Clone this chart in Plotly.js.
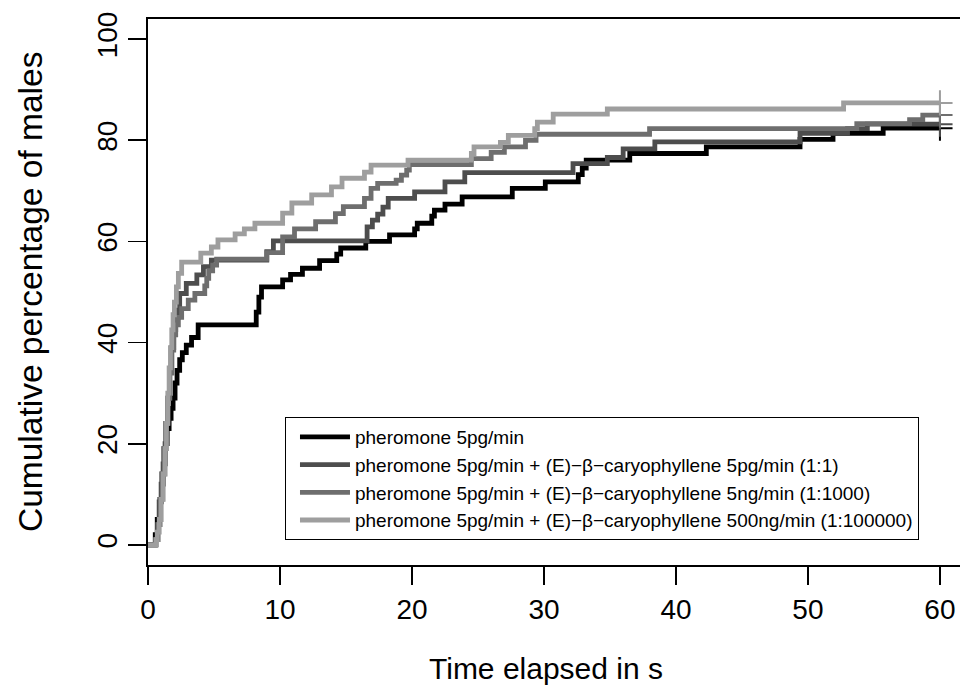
<!DOCTYPE html>
<html><head><meta charset="utf-8">
<script src="https://cdn.plot.ly/plotly-3.0.1.min.js"></script>
<style>body{margin:0;background:#fff}</style>
</head><body><div id="chart" style="width:960px;height:700px"></div>
<script>
const seriesNames = [
  "pheromone 5pg/min",
  "pheromone 5pg/min + (E)\u2212\u03b2\u2212caryophyllene 5pg/min (1:1)",
  "pheromone 5pg/min + (E)\u2212\u03b2\u2212caryophyllene 5ng/min (1:1000)",
  "pheromone 5pg/min + (E)\u2212\u03b2\u2212caryophyllene 500ng/min (1:100000)"
];
const seriesColors = ["#000000", "#4d4d4d", "#6e6e6e", "#9e9e9e"];

// pheromone 5pg/min
const t1 = [0, 0.55, 0.7, 0.85, 1.0, 1.15, 1.3, 1.45, 1.6, 1.75, 1.9, 2.05, 2.2, 2.4, 2.6, 2.9, 3.3, 3.8, 8.2, 8.4, 8.6, 10.2, 10.8, 11.7, 13.0, 14.3, 14.6, 16.5, 18.3, 20.2, 20.4, 21.5, 21.7, 22.5, 23.8, 27.6, 30.1, 32.6, 32.9, 33.2, 36.5, 42.3, 49.4, 51.9, 55.7, 60];
const v1 = [0, 2, 5, 8.5, 12, 16, 20, 23, 25, 27, 29, 32, 34.5, 36.6, 38, 39.5, 41, 43.5, 46, 49, 51, 52.4, 53.5, 54.7, 56.2, 57.5, 58.7, 60, 61.3, 62.5, 63.6, 65, 66.2, 67.4, 68.8, 70.5, 71.8, 73.2, 74.5, 76.1, 77.4, 78.7, 80.2, 81.4, 82.4, 82.4];

// + caryophyllene 5pg/min (1:1)
const t2 = [0, 0.6, 0.75, 0.9, 1.05, 1.2, 1.35, 1.5, 1.65, 1.8, 1.95, 2.1, 2.3, 2.4, 2.9, 3.7, 4.2, 4.8, 9.0, 9.5, 16.6, 17.0, 17.4, 17.8, 18.2, 20.2, 22.5, 24.0, 32.2, 34.8, 36.0, 38.4, 49.4, 53.0, 54.5, 60];
const v2 = [0, 1, 4, 9, 14, 19, 24, 29, 34, 39, 42.5, 45, 46.4, 49.7, 51.7, 53.4, 55, 56.3, 58, 60.1, 62.9, 64.2, 65.4, 66.8, 68.5, 69.8, 71.8, 73.6, 75.4, 76.6, 78.3, 79.7, 81.4, 82.3, 83.2, 83.2];

// + caryophyllene 5ng/min (1:1000)
const t3 = [0, 0.6, 0.75, 0.9, 1.05, 1.2, 1.35, 1.5, 1.65, 1.8, 1.95, 2.1, 2.3, 2.55, 3.05, 3.55, 4.3, 4.45, 4.6, 4.9, 5.2, 9.0, 10.2, 11.1, 12.7, 14.2, 14.8, 16.4, 16.9, 17.4, 18.8, 19.2, 19.6, 19.8, 24.5, 26.0, 27.0, 28.6, 29.4, 38.0, 53.7, 57.7, 58.7, 60];
const v3 = [0, 1, 4, 9, 14, 19, 24, 29, 34, 38.5, 41.5, 43.5, 45, 46.7, 48.4, 49.7, 51.2, 52.7, 54.2, 55.3, 56.5, 57.8, 60.9, 62.5, 63.9, 65.5, 66.9, 68.5, 70.5, 71.5, 72.1, 73.1, 74.1, 75.2, 76.4, 77.6, 78.7, 80.0, 81.2, 82.3, 83.3, 84.1, 85.0, 85.0];

// + caryophyllene 500ng/min (1:100000)
const t4 = [0, 0.6, 0.7, 0.85, 1.0, 1.15, 1.3, 1.4, 1.5, 1.6, 1.7, 1.8, 1.9, 2.0, 2.15, 2.3, 2.55, 4.0, 4.8, 5.3, 6.6, 7.3, 8.1, 10.2, 10.9, 12.4, 13.9, 14.7, 16.4, 16.9, 19.7, 24.5, 24.7, 26.7, 27.3, 29.3, 29.5, 30.7, 34.8, 52.7, 60];
const v4 = [0, 1, 2.5, 5, 9, 14, 19, 24, 30, 35, 39, 42.5, 45.5, 48, 51, 53.7, 55.9, 57.7, 58.9, 60.3, 61.5, 62.5, 63.6, 65.6, 67.6, 69.2, 70.8, 72.5, 73.7, 75.1, 76.1, 77.4, 78.7, 79.6, 81.0, 82.3, 83.6, 85.2, 86.2, 87.4, 87.4];

const xTicks = [0, 10, 20, 30, 40, 50, 60];
const yTicks = [0, 20, 40, 60, 80, 100];

const allT = [t1, t2, t3, t4];
const allV = [v1, v2, v3, v4];
const traces = [];
for (let i = 0; i < 4; i++) {
  traces.push({
    x: allT[i], y: allV[i], type: 'scatter', mode: 'lines',
    line: {shape: 'hv', color: seriesColors[i], width: 4.8},
    name: seriesNames[i], showlegend: true
  });
}
for (let i = 0; i < 4; i++) {
  const n = allT[i].length - 1;
  traces.push({
    x: [allT[i][n]], y: [allV[i][n]], type: 'scatter', mode: 'markers',
    marker: {symbol: 'cross-thin', size: 18, line: {color: seriesColors[i], width: 2}},
    showlegend: false, hoverinfo: 'skip'
  });
}

const font = "Liberation Sans, Arial, sans-serif";
const layout = {
  width: 960, height: 700,
  margin: {l: 148, r: 0, t: 19, b: 135},
  paper_bgcolor: '#fff', plot_bgcolor: '#fff',
  font: {family: font, color: '#000'},
  xaxis: {
    range: [0, 61.52], tickvals: xTicks, ticktext: xTicks.map(String),
    ticks: 'outside', ticklen: 18, tickwidth: 1.7, tickcolor: '#000',
    showline: true, mirror: true, linecolor: '#000', linewidth: 2,
    showgrid: false, zeroline: false, tickfont: {size: 28, family: font},
  },
  yaxis: {
    range: [-4, 104], tickvals: yTicks, ticktext: yTicks.map(String),
    ticks: 'outside', ticklen: 18, tickwidth: 1.7, tickcolor: '#000',
    showline: true, linecolor: '#000', linewidth: 2, tickangle: -90,
    showgrid: false, zeroline: false, tickfont: {size: 28, family: font},
  },
  annotations: [
    {text: 'Time elapsed in s', xref: 'paper', yref: 'paper', x: 0.49, y: -0.19,
     xanchor: 'center', yanchor: 'middle', showarrow: false, font: {size: 30, family: font}},
    {text: 'Cumulative percentage of males', xref: 'paper', yref: 'paper', x: -0.1453, y: 0.5,
     xanchor: 'center', yanchor: 'middle', textangle: -90, showarrow: false, font: {size: 33.5, family: font}}
  ],
  legend: {
    x: 0.1687, y: 0.271, xanchor: 'left', yanchor: 'top',
    bordercolor: '#000', borderwidth: 1, bgcolor: '#fff',
    font: {size: 19, family: font}, itemwidth: 50, indentation: 9, tracegroupgap: 0
  },
  showlegend: true
};
Plotly.newPlot('chart', traces, layout, {staticPlot: true, displayModeBar: false});
</script></body></html>
